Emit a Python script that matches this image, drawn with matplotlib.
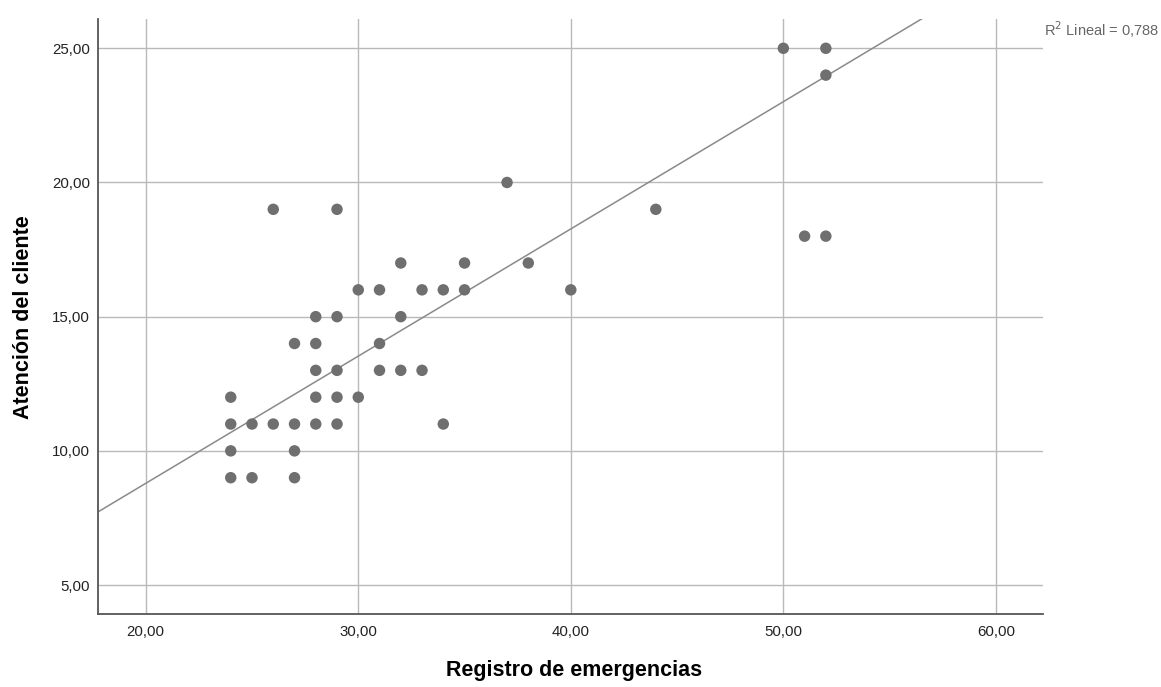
import numpy as np
import matplotlib
matplotlib.use("Agg")
import matplotlib.pyplot as plt

plt.rcParams['font.family'] = ['Liberation Sans', 'DejaVu Sans']

# registro de emergencias (x) vs atencion del cliente (y)
registro = [24, 24, 24, 24, 25, 25, 26, 26, 27, 27, 27, 27,
            28, 28, 28, 28, 28, 29, 29, 29, 29, 29, 30, 30,
            31, 31, 31, 32, 32, 32, 33, 33, 34, 34, 35, 35,
            37, 38, 40, 44, 50, 51, 52, 52, 52]
atencion = [12, 11, 10, 9, 11, 9, 19, 11, 14, 11, 10, 9,
            15, 14, 13, 12, 11, 19, 15, 13, 12, 11, 16, 12,
            16, 14, 13, 17, 15, 13, 16, 13, 16, 11, 17, 16,
            20, 17, 16, 19, 25, 18, 25, 24, 18]

# linear fit as reported
pendiente = 0.474
intercepto = -0.69
r2 = 0.788

x_ticks = [20, 30, 40, 50, 60]
y_ticks = [5, 10, 15, 20, 25]

fig = plt.figure(figsize=(11.61, 6.87), dpi=100)
ax = fig.add_axes([0.0847, 0.1058, 0.8139, 0.8661])

xmin, xmax = 17.77, 62.23
ymin, ymax = 3.91, 26.08
ax.set_xlim(xmin, xmax)
ax.set_ylim(ymin, ymax)

ax.scatter(registro, atencion, s=68, color='#6f6f6f', edgecolors='none', zorder=3)

xl = np.array([xmin, xmax])
ax.plot(xl, intercepto + pendiente * xl, color='#8a8a8a', lw=1.1, zorder=2)

ax.set_xticks(x_ticks)
ax.set_yticks(y_ticks)
ax.set_xticklabels([f"{v:.2f}".replace('.', ',') for v in x_ticks])
ax.set_yticklabels([f"{v:.2f}".replace('.', ',') for v in y_ticks])
ax.tick_params(length=0, labelsize=10.8, labelcolor='#222222')
ax.tick_params(axis='x', pad=8)
ax.tick_params(axis='y', pad=6)
ax.grid(True, color='#b9b9b9', lw=1.0, zorder=0)
ax.set_axisbelow(True)

for side in ['top', 'right']:
    ax.spines[side].set_visible(False)
for side in ['left', 'bottom']:
    ax.spines[side].set_color('#555555')
    ax.spines[side].set_linewidth(1.3)

ax.set_xlabel('Registro de emergencias', fontsize=15.5, fontweight='bold', va='center')
ax.set_ylabel('Atención del cliente', fontsize=15.5, fontweight='bold', va='center')
ax.xaxis.set_label_coords(0.503, -0.0936)
ax.yaxis.set_label_coords(-0.0792, 0.5)

fig.text(0.8995, 0.957, f"R$^2$ Lineal = {r2:.3f}".replace('.', ','), fontsize=10.5,
         color='#666666', ha='left', va='center')

fig.savefig('out.png', dpi=100)
